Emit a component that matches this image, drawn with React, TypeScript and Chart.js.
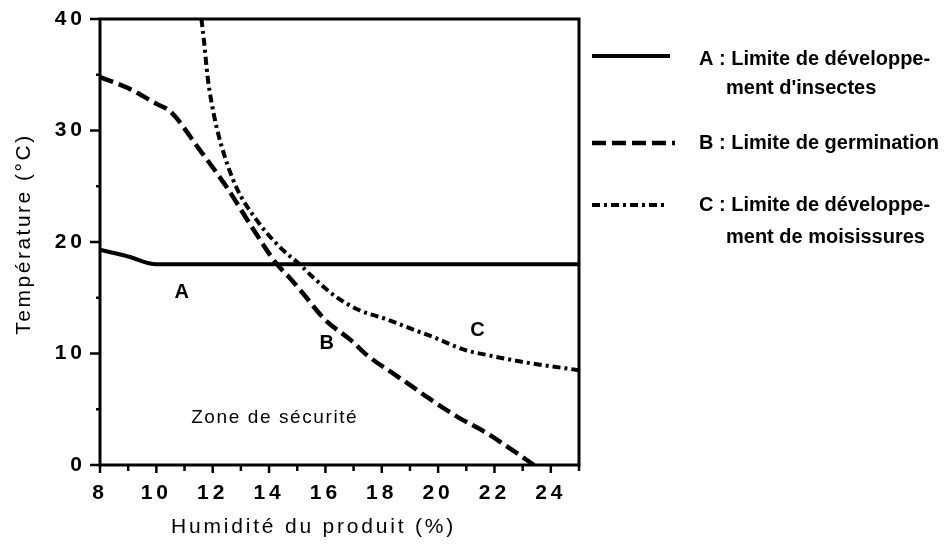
import React, { useEffect, useRef } from 'react';
import { Chart, registerables } from 'chart.js';

Chart.register(...registerables);

// ---- Data ----
const xA = [8, 9, 10, 25];
const yA = [19.3, 18.7, 18, 18];

const xB = [8, 9, 10, 10.5, 11.5, 12.5, 13.4, 14.25, 14.8, 15.2, 16.0, 16.9, 17.5, 18.35, 19.1, 19.6, 20.7, 21.7, 22.6, 23.4];
const yB = [34.8, 33.8, 32.4, 31.7, 28.4, 24.9, 21.3, 18.1, 16.6, 15.4, 13.0, 11.2, 9.8, 8.3, 7.0, 6.1, 4.3, 2.9, 1.4, 0];

const xC = [11.6, 11.7, 11.82, 12.06, 12.35, 12.84, 13.55, 14.36, 15.17, 15.53, 16.37, 17.19, 18.14, 19.06, 19.8, 20.97, 21.67, 23.1, 25];
const yC = [40, 37.8, 34.8, 31.2, 28.3, 24.9, 22.0, 19.6, 17.8, 16.9, 15.1, 13.9, 13.1, 12.2, 11.5, 10.3, 9.9, 9.2, 8.5];

const xTickLabels = [8, 10, 12, 14, 16, 18, 20, 22, 24];
const yTickLabels = [0, 10, 20, 30, 40];

const xTitle = 'Humidité du produit (%)';
const yTitle = 'Température (°C)';

const curveNames = ['A', 'B', 'C'];
const curveLabelX = [10.9, 16.05, 21.4];
const curveLabelY = [15.5, 10.9, 12.1];

const zoneText = 'Zone de sécurité';
const zoneX = 14.2;
const zoneY = 4.2;

const legendLines = [
  ['A : Limite de développe-', "ment d'insectes"],
  ['B : Limite de germination'],
  ['C : Limite de développe-', 'ment de moisissures'],
];

const FONT = "'Liberation Sans', Arial, Helvetica, sans-serif";

const toPts = (xs: number[], ys: number[]) => xs.map((x, i) => ({ x, y: ys[i] }));

const decorPlugin = {
  id: 'decor',
  beforeDraw(chart: any) {
    const ctx = chart.ctx;
    ctx.save();
    ctx.fillStyle = '#fff';
    ctx.fillRect(0, 0, chart.width, chart.height);
    ctx.restore();
    (ctx as any).letterSpacing = '4px';
  },
  beforeDatasetsDraw(chart: any) {
    (chart.ctx as any).letterSpacing = '0px';
  },
  afterDraw(chart: any) {
    const ctx = chart.ctx;
    const { chartArea } = chart;
    const xs = chart.scales.x;
    const ys = chart.scales.y;
    ctx.save();
    ctx.strokeStyle = '#000';
    ctx.fillStyle = '#000';
    ctx.lineCap = 'butt';
    // frame
    ctx.lineWidth = 3;
    ctx.strokeRect(chartArea.left, chartArea.top, chartArea.right - chartArea.left, chartArea.bottom - chartArea.top);
    // ticks x
    ctx.lineWidth = 2.5;
    xs.ticks.forEach((t: any) => {
      const px = xs.getPixelForValue(t.value);
      const len = t.value % 2 === 0 ? 8 : 6;
      ctx.beginPath();
      ctx.moveTo(px, chartArea.bottom);
      ctx.lineTo(px, chartArea.bottom + len);
      ctx.stroke();
    });
    ys.ticks.forEach((t: any) => {
      const py = ys.getPixelForValue(t.value);
      const len = t.value % 10 === 0 ? 10 : 4;
      ctx.beginPath();
      ctx.moveTo(chartArea.left, py);
      ctx.lineTo(chartArea.left - len, py);
      ctx.stroke();
    });

    // axis titles
    ctx.textAlign = 'center';
    ctx.textBaseline = 'middle';
    (ctx as any).letterSpacing = '2.8px';
    ctx.font = `21px ${FONT}`;
    ctx.fillText(xTitle, (chartArea.left + chartArea.right) / 2 - 26, 527);
    ctx.save();
    ctx.translate(24, (chartArea.top + chartArea.bottom) / 2 - 8);
    ctx.rotate(-Math.PI / 2);
    (ctx as any).letterSpacing = '2.5px';
    ctx.fillText(yTitle, 0, 0);
    ctx.restore();

    // curve labels
    (ctx as any).letterSpacing = '0px';
    ctx.font = `bold 20px ${FONT}`;
    curveNames.forEach((n, i) => {
      ctx.fillText(n, xs.getPixelForValue(curveLabelX[i]), ys.getPixelForValue(curveLabelY[i]));
    });
    // zone text
    (ctx as any).letterSpacing = '1.6px';
    ctx.font = `19px ${FONT}`;
    ctx.fillText(zoneText, xs.getPixelForValue(zoneX), ys.getPixelForValue(zoneY));

    // legend
    (ctx as any).letterSpacing = '0px';
    const lineY = [56, 143, 205];
    const textY = [[59, 88], [143], [205, 237]];
    const lineEnd = [670, 675, 668];
    chart.data.datasets.forEach((ds: any, i: number) => {
      ctx.save();
      ctx.strokeStyle = ds.borderColor;
      ctx.lineWidth = ds.borderWidth;
      ctx.setLineDash(ds.borderDash || []);
      ctx.beginPath();
      ctx.moveTo(592, lineY[i]);
      ctx.lineTo(lineEnd[i], lineY[i]);
      ctx.stroke();
      ctx.restore();
      ctx.textAlign = 'left';
      ctx.textBaseline = 'middle';
      ctx.font = `bold 20px ${FONT}`;
      legendLines[i].forEach((txt, j) => {
        ctx.fillText(txt, j === 0 ? 699 : 726, textY[i][j]);
      });
    });
    ctx.restore();
  },
};

export default function App() {
  const ref = useRef<HTMLCanvasElement | null>(null);
  useEffect(() => {
    if (!ref.current) return;
    const chart = new Chart(ref.current, {
      type: 'scatter',
      data: {
        datasets: [
          {
            label: 'A',
            data: toPts(xA, yA),
            showLine: true,
            borderColor: '#000',
            borderWidth: 4,
            pointRadius: 0,
            cubicInterpolationMode: 'monotone',
          },
          {
            label: 'B',
            data: toPts(xB, yB),
            showLine: true,
            borderColor: '#000',
            borderWidth: 4.5,
            borderDash: [14, 6],
            pointRadius: 0,
            cubicInterpolationMode: 'monotone',
          },
          {
            label: 'C',
            data: toPts(xC, yC),
            showLine: true,
            borderColor: '#000',
            borderWidth: 4,
            borderDash: [8, 4, 3, 4],
            pointRadius: 0,
            cubicInterpolationMode: 'monotone',
          },
        ],
      } as any,
      options: {
        animation: false,
        responsive: false,
        devicePixelRatio: 1,
        layout: { padding: { left: 0, top: 19, right: 366, bottom: 0 } },
        plugins: { legend: { display: false }, tooltip: { enabled: false } },
        scales: {
          x: {
            type: 'linear',
            min: 8,
            max: 25,
            grid: { display: false, drawTicks: false },
            border: { display: false },
            ticks: {
              stepSize: 1,
              autoSkip: false,
              maxRotation: 0,
              padding: 16,
              color: '#000',
              font: { family: FONT, size: 21, weight: 'bold' },
              callback: (v: any) => (xTickLabels.includes(Number(v)) ? String(v) : ''),
            },
            title: { display: false },
            afterFit: (s: any) => {
              s.height = 83;
            },
          },
          y: {
            type: 'linear',
            min: 0,
            max: 40,
            grid: { display: false, drawTicks: true, tickLength: 11 },
            border: { display: false },
            ticks: {
              stepSize: 5,
              autoSkip: false,
              padding: 3,
              color: '#000',
              font: { family: FONT, size: 21, weight: 'bold' },
              callback: (v: any) => (yTickLabels.includes(Number(v)) ? String(v) : ''),
            },
            title: { display: false },
            afterFit: (s: any) => {
              s.width = 100;
            },
          },
        },
      } as any,
      plugins: [decorPlugin],
    });
    return () => chart.destroy();
  }, []);
  return (
    <div style={{ position: 'absolute', left: 0, top: 0, width: 945, height: 548, background: '#fff' }}>
      <canvas ref={ref} width={945} height={548} style={{ display: 'block', width: 945, height: 548 }} />
    </div>
  );
}
